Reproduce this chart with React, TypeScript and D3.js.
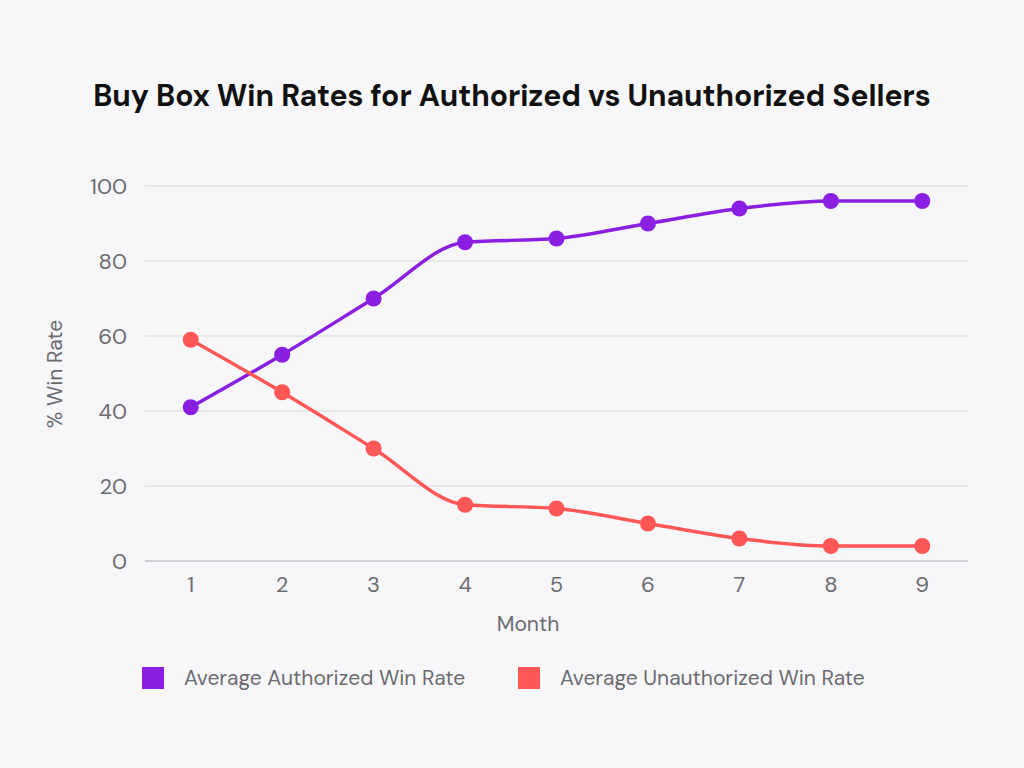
import { useEffect, useRef } from "react"
import * as d3 from "d3"

const months = ["1", "2", "3", "4", "5", "6", "7", "8", "9"]
const authorized = [41, 55, 70, 85, 86, 90, 94, 96, 96]
const unauthorized = [59, 45, 30, 15, 14, 10, 6, 4, 4]
const yTicks = [0, 20, 40, 60, 80, 100]

const series = [
  { name: "Average Authorized Win Rate", values: authorized, color: "#8a1fe2" },
  { name: "Average Unauthorized Win Rate", values: unauthorized, color: "#ff5656" },
]

export default function App() {
  const svgRef = useRef<SVGSVGElement>(null)

  useEffect(() => {
    if (!svgRef.current) return
    document.body.style.margin = "0"
    const svg = d3.select(svgRef.current)
    svg.selectAll("*").remove()

    const width = 1024
    const height = 768
    const margin = { top: 186, right: 56, bottom: 207, left: 145 }
    const innerWidth = width - margin.left - margin.right
    const innerHeight = height - margin.top - margin.bottom
    const font = "'DM Sans', Inter, 'Noto Sans', sans-serif"

    svg.append("rect").attr("width", width).attr("height", height).attr("fill", "#f7f7f9")

    // Title
    svg
      .append("text")
      .attr("x", width / 2)
      .attr("y", 106)
      .attr("text-anchor", "middle")
      .style("font-family", font)
      .style("font-size", "30px")
      .style("font-weight", "700")
      .attr("fill", "#111")
      .text("Buy Box Win Rates for Authorized vs Unauthorized Sellers")

    const x = d3.scaleBand().domain(months).range([0, innerWidth])
    const y = d3.scaleLinear().domain([0, 100]).range([innerHeight, 0])

    const g = svg.append("g").attr("transform", `translate(${margin.left},${margin.top})`)

    // Gridlines
    g.selectAll(".grid")
      .data(yTicks)
      .enter()
      .append("line")
      .attr("x1", 0)
      .attr("x2", innerWidth)
      .attr("y1", (d) => y(d))
      .attr("y2", (d) => y(d))
      .attr("stroke", (d) => (d === 0 ? "#c4c4c8" : "#e2e2e5"))
      .attr("stroke-width", 1.5)

    // Y tick labels
    g.selectAll(".ytick")
      .data(yTicks)
      .enter()
      .append("text")
      .attr("x", -18)
      .attr("y", (d) => y(d))
      .attr("dy", "0.35em")
      .attr("text-anchor", "end")
      .style("font-family", font)
      .style("font-size", "22px")
      .attr("fill", "#6b6b70")
      .text((d) => d)

    // X tick labels
    g.selectAll(".xtick")
      .data(months)
      .enter()
      .append("text")
      .attr("x", (d) => (x(d) || 0) + x.bandwidth() / 2)
      .attr("y", innerHeight + 31)
      .attr("text-anchor", "middle")
      .style("font-family", font)
      .style("font-size", "22px")
      .attr("fill", "#6b6b70")
      .text((d) => d)

    // Axis titles
    svg
      .append("text")
      .attr("x", 528)
      .attr("y", 631)
      .attr("text-anchor", "middle")
      .style("font-family", font)
      .style("font-size", "21px")
      .attr("fill", "#6b6b70")
      .text("Month")

    svg
      .append("text")
      .attr("transform", `translate(62,374) rotate(-90)`)
      .attr("text-anchor", "middle")
      .style("font-family", font)
      .style("font-size", "21px")
      .attr("fill", "#6b6b70")
      .text("% Win Rate")

    // Lines and dots
    series.forEach((s) => {
      const line = d3
        .line<number>()
        .x((_, i) => (x(months[i]) || 0) + x.bandwidth() / 2)
        .y((d) => y(d))
        .curve(d3.curveMonotoneX)

      g.append("path")
        .datum(s.values)
        .attr("fill", "none")
        .attr("stroke", s.color)
        .attr("stroke-width", 3.5)
        .attr("d", line)

      g.selectAll(null)
        .data(s.values)
        .enter()
        .append("circle")
        .attr("cx", (_, i) => (x(months[i]) || 0) + x.bandwidth() / 2)
        .attr("cy", (d) => y(d))
        .attr("r", 8)
        .attr("fill", s.color)
    })

    // Legend
    const legendX = [142, 518]
    series.forEach((s, i) => {
      const lg = svg.append("g").attr("transform", `translate(${legendX[i]},667)`)
      lg.append("rect").attr("width", 22).attr("height", 22).attr("fill", s.color)
      lg.append("text")
        .attr("x", 42)
        .attr("y", 11)
        .attr("dy", "0.35em")
        .style("font-family", font)
        .style("font-size", "21px")
        .attr("fill", "#6b6b70")
        .text(s.name)
    })
  }, [])

  return <svg ref={svgRef} width={1024} height={768} style={{ display: "block" }}></svg>
}
